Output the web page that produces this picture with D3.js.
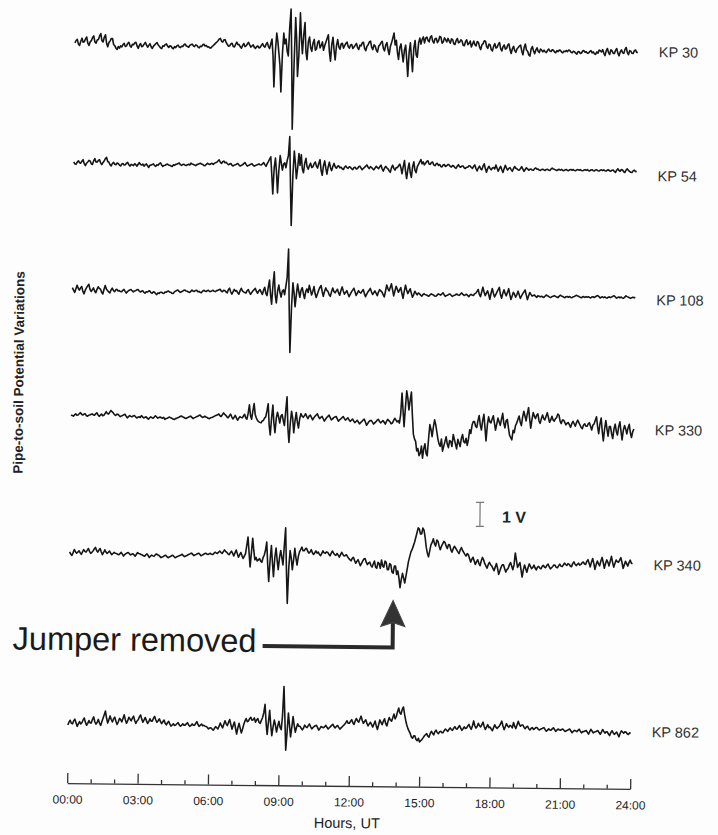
<!DOCTYPE html>
<html>
<head>
<meta charset="utf-8">
<script src="https://cdn.jsdelivr.net/npm/d3@7"></script>
<style>
  html, body { margin: 0; padding: 0; background: #fdfdfd; }
  svg { display: block; font-family: "Liberation Sans", Arial, sans-serif; }
</style>
</head>
<body>
<svg id="chart" width="718" height="835"></svg>
<script>
// Pipe-to-soil potential variations at six pipeline stations.
// Values in centivolts (0.01 V) relative to each station's mean level,
// one sample every 0.05 h from 00:00 to 24:00 UT (20 samples per row = 1 hour).
const stations = ["KP 30", "KP 54", "KP 108", "KP 330", "KP 340", "KP 862"];

const kp30 = [
  5,15,20,0,-5,12,25,8,10,22,30,5,-5,10,15,28,35,10,5,18,
  20,35,45,15,10,30,40,5,-10,8,15,25,25,0,-5,-15,-20,-8,-15,-5,
  -10,0,5,-8,-5,5,10,-5,-10,2,0,8,10,-5,-15,-2,5,-8,-5,3,
  10,0,-10,-2,5,-8,-15,-5,0,6,10,0,-5,-12,-15,-3,-5,2,5,-4,
  -10,-3,-5,-12,-15,-6,-10,-2,0,-8,-10,-4,-5,2,5,-3,-5,-8,0,3,
  5,-2,-5,2,0,-7,-10,-3,-5,3,5,-2,0,-6,-5,-10,-10,-4,0,5,
  10,15,20,28,30,18,15,24,25,12,5,-2,0,8,10,-3,-5,6,15,5,
  5,-4,-10,2,10,-3,0,8,15,4,-5,0,5,-6,-10,-2,0,-8,-5,3,
  10,0,-5,8,15,-2,-10,10,30,-40,-170,-20,55,20,-30,-80,-190,-30,55,10,
  30,-20,-40,80,155,-60,-345,-80,120,30,-125,-40,140,40,-30,50,100,-20,-55,20,
  40,-5,-20,15,30,-15,-10,18,25,-5,5,20,-15,5,20,35,50,-20,-60,10,
  40,-15,-55,5,30,0,-10,12,15,-5,5,15,20,2,-5,8,10,-6,0,8,
  15,-2,-10,8,5,18,20,-5,-15,4,10,22,25,0,-10,10,5,-12,-20,5,
  10,20,25,-5,-15,10,20,-10,-30,5,20,40,60,10,30,-20,-50,0,15,-25,
  -60,-10,10,-50,-120,-20,20,-40,-100,0,30,-30,-40,20,40,15,35,45,20,40,
  45,30,25,45,50,28,20,38,40,22,30,48,45,20,25,42,35,25,40,30,
  20,38,35,18,15,32,40,22,25,35,30,12,10,28,35,15,20,30,5,18,
  30,15,10,28,25,5,-5,15,20,32,30,8,0,18,15,-5,-10,10,20,2,
  5,18,25,0,-10,8,15,-2,0,15,20,-5,-20,0,10,-8,-15,0,5,12,
  15,-10,-25,5,20,-5,-10,-25,-30,0,10,-8,-20,-5,5,-10,-15,0,-5,-12,
  -5,-12,-15,-5,0,-8,-10,-3,-5,-12,-15,-6,-10,-4,-5,-12,-15,-8,-10,-5,
  -10,-3,-5,-12,-15,-8,-10,-16,-20,-9,-10,-17,-15,-6,-5,-12,-10,-16,-15,-8,
  -5,-14,-10,-18,-20,-10,-15,-2,-5,-10,0,-15,-25,-5,5,-12,-20,0,-5,-15,
  -15,-2,5,-15,-25,-8,0,-12,-15,2,10,-10,-20,-3,-5,-14,-15,-3,0,-10,
  -10
];

const kp54 = [
  5,-3,-5,4,10,2,0,8,15,-2,-10,0,5,12,10,-2,-5,10,20,6,
  5,12,15,2,-5,4,10,20,25,8,5,-5,-10,0,5,-3,-5,2,0,-6,
  -10,-2,0,-6,-5,2,5,-4,-10,-3,-5,-8,0,-4,-10,-2,5,-3,-5,-1,
  -10,-4,0,-8,-15,-6,-5,-2,0,-7,-10,-3,-5,1,5,-4,-10,-6,-5,-2,
  0,-4,-5,-8,-10,-3,-5,-1,0,3,5,-2,-5,-1,0,-4,-5,-2,0,-3,
  5,1,0,-3,-5,-1,0,3,5,2,0,-4,-5,0,5,2,0,3,5,1,
  5,8,10,15,20,10,5,12,15,8,10,4,0,3,5,-2,-5,-1,0,3,
  5,-1,-5,-2,0,5,10,2,-5,-2,0,3,5,-1,-5,-2,0,2,5,1,
  0,5,10,2,-5,6,15,25,35,-40,-120,-10,30,-30,-115,-20,40,10,-20,5,
  10,-10,20,40,120,-80,-250,-40,60,10,-55,-10,50,0,45,-15,-30,10,30,-5,
  -15,0,10,-8,-5,8,15,-2,-10,10,25,-20,-40,0,20,-10,-35,-5,15,-8,
  -20,-2,10,-4,-10,-2,0,-8,-5,-12,-15,-5,0,-7,-10,-3,-5,-12,-15,-6,
  -5,-12,-10,-3,0,-8,-15,-9,-5,0,5,-4,-10,-2,-5,-11,-15,-7,0,-6,
  -10,-2,5,-10,-20,-8,0,-6,-10,-18,-25,-5,5,-8,-15,-5,-5,3,10,-5,
  -30,0,25,-20,-50,-10,15,-25,-45,0,20,-15,-25,0,10,20,30,12,20,8,
  15,22,25,12,10,18,20,8,5,12,15,6,10,2,0,8,10,2,5,10,
  10,3,0,6,5,-2,-5,4,10,2,0,5,5,-3,-5,0,0,6,5,-1,
  -5,4,10,-5,-15,-3,5,-6,-10,5,15,-5,-20,-5,5,-4,-10,-2,0,-6,
  10,-3,-15,-4,5,-8,-20,-5,10,-2,-10,-3,0,-8,-15,-4,5,-2,-5,-9,
  -10,-3,5,-6,-15,-7,0,-4,-10,-6,-5,-9,-10,-3,0,-5,-5,-9,-10,-6,
  -5,-8,-10,-6,-5,-9,-10,-4,0,-4,-5,-8,-10,-6,-5,-8,-5,-9,-10,-7,
  -5,-9,-10,-6,-5,-8,-5,-9,-10,-6,-5,-8,-5,-9,-10,-7,-5,-8,-5,-9,
  -10,-6,-5,-9,-10,-6,-5,-9,-10,-7,-5,-8,-5,-9,-10,-6,-5,-9,-10,-6,
  -5,-11,-15,-6,0,-7,-10,-3,-5,-12,-15,-5,0,-6,-10,-14,-15,-8,-5,-11,
  -10
];

const kp108 = [
  10,0,-10,5,20,8,0,10,15,-5,-15,0,10,18,25,5,-5,2,10,-3,
  -10,4,15,8,5,-8,-15,5,20,6,0,-6,-10,2,10,0,-5,3,5,-2,
  0,-4,-5,1,5,-3,-10,-4,0,3,5,0,-5,-1,0,4,5,-1,-5,-2,
  0,-6,-10,-4,-5,-1,0,-7,-10,-4,-5,-11,-15,-8,-10,-5,-5,-9,-10,-4,
  -5,-1,0,-4,-5,-9,-10,-3,0,3,5,-1,-5,-2,0,4,5,1,0,-3,
  -5,0,5,1,0,4,5,-1,0,-4,-5,1,5,2,0,3,5,0,0,3,
  5,1,0,4,5,8,10,2,0,6,5,-1,-5,8,15,0,-10,0,10,3,
  5,-4,-10,5,15,4,0,-3,-5,5,10,-2,-10,-2,5,10,15,2,-5,5,
  10,0,-10,8,20,-5,-15,20,50,-10,-50,30,85,-10,-45,5,30,0,-20,5,
  10,-10,25,60,180,-60,-250,-60,40,0,-60,-10,35,5,-20,10,20,-5,-25,5,
  15,0,30,10,-10,5,25,-5,-20,-5,10,22,30,5,-15,5,20,10,5,-8,
  -15,5,20,6,0,8,15,0,-10,10,25,8,-5,2,10,-3,-15,-5,5,12,
  20,5,-10,0,10,3,0,8,15,-2,-15,-4,5,12,20,6,-5,2,10,0,
  -10,5,15,10,5,-5,-15,10,35,20,10,25,40,15,-10,10,30,18,5,15,
  25,0,-20,10,35,15,0,10,20,2,-15,-5,10,2,-5,3,0,-6,-10,-3,
  0,-4,-5,-8,-10,-4,0,-3,-5,-9,-10,-5,0,-2,-5,0,5,-3,-10,-6,
  -5,-1,0,-5,-10,-6,-5,-1,0,-4,-5,1,5,-1,-5,-3,0,-5,-10,-4,
  0,-4,-5,2,5,12,20,0,-10,10,30,10,-5,5,15,0,-20,5,25,5,
  -10,0,10,20,30,0,-15,5,20,5,-5,10,25,0,-20,-5,10,2,-10,0,
  15,0,-15,-5,5,12,20,0,-20,-5,10,2,-5,-2,0,-6,-10,-3,-5,-8,
  -5,-8,-10,-5,0,-3,-5,-9,-10,-6,-5,-2,-5,-8,-10,-5,0,-3,-5,-8,
  -10,-6,-5,-8,-5,-9,-10,-6,-5,-2,0,-3,-5,-8,-10,-6,-5,-8,-5,-7,
  -5,-8,-10,-6,-5,-8,-5,-2,0,-4,-10,-7,-5,-8,-5,-9,-10,-6,-5,-8,
  -5,-2,0,-5,-10,-7,-5,-8,-5,-9,-10,-5,0,-3,-5,-8,-10,-7,-5,-8,
  -5
];

const kp330 = [
  5,2,0,5,10,4,5,10,15,8,5,9,10,3,0,4,5,8,10,6,
  5,10,15,6,0,5,10,3,5,12,20,12,10,18,25,20,15,8,5,9,
  10,4,0,3,5,8,10,2,-5,0,5,1,0,3,5,0,-5,-2,0,-3,
  5,0,-5,-2,0,-5,-10,-4,0,-3,-5,0,5,0,-5,-2,0,-3,-5,-1,
  -10,-6,-5,-2,0,-3,-5,-8,-10,-6,-5,-2,0,3,5,2,0,-3,-5,-2,
  0,3,5,0,-5,-2,0,3,5,8,10,4,0,2,5,2,0,-3,-5,-1,
  0,2,5,8,10,12,15,8,5,12,20,14,10,3,0,8,15,4,-5,2,
  10,0,-10,-2,5,2,0,8,15,0,-5,20,55,10,-5,30,60,15,0,-10,
  -15,-18,-20,-12,-10,0,5,30,60,-30,-70,0,55,-20,-60,0,25,5,-20,10,
  15,-10,-30,30,90,-40,-100,-20,30,0,-60,-10,25,-15,-40,0,20,10,5,12,
  20,8,0,10,15,5,-5,3,10,15,20,8,0,6,10,0,-10,-2,5,10,
  15,5,-5,0,5,8,10,0,-10,-4,0,5,10,2,-5,0,5,-3,-10,-5,
  0,-8,-15,-10,-5,-12,-20,-14,-10,-4,0,-12,-25,-18,-10,-6,-5,-12,-20,-15,
  -10,-4,0,-8,-15,-10,-5,-12,-20,-8,0,-5,-10,-18,-15,-5,5,-2,-10,-5,
  -15,20,110,40,-30,50,120,90,40,80,115,20,-60,-80,-90,-130,-120,-150,-140,-110,
  -160,-120,-100,-140,-150,-80,-20,-40,-70,-30,0,-20,-50,-80,-100,-110,-80,-130,-110,-90,
  -70,-100,-115,-85,-90,-110,-60,-80,-100,-120,-80,-95,-110,-75,-60,-90,-95,-75,-105,-80,
  -40,-55,-20,-5,-5,-25,-30,0,20,-20,-40,0,25,-30,-85,-20,15,-5,-10,5,
  20,-10,-40,-15,10,-5,-20,5,30,-10,-30,0,5,-30,-60,-70,-80,-40,-50,-20,
  -10,5,20,-5,-20,15,40,20,0,30,55,10,-30,5,35,20,10,25,30,0,
  -10,10,25,10,5,20,35,15,-5,5,20,5,0,10,15,30,25,0,-10,5,
  5,-5,-15,-8,-5,-15,-25,-10,0,-10,-20,-5,5,-5,-15,-25,-30,-15,-10,-20,
  -20,-10,-5,-20,-35,-15,-10,5,20,-20,-50,-10,15,-40,-80,-30,5,-30,-60,-20,
  -20,-50,-70,-30,-10,-40,-55,-20,0,-40,-75,-35,-15,-30,-50,-25,-10,-45,-65,-40,
  -30
];

const kp340 = [
  5,-4,-10,2,15,6,0,4,10,2,-5,5,15,8,5,12,20,8,0,4,
  10,18,25,12,5,14,20,6,-5,4,15,6,0,5,10,2,-5,0,5,1,
  0,-3,-5,0,5,-2,-10,-4,0,3,5,0,-5,-2,0,-5,-10,-2,5,1,
  0,-3,-5,-8,-10,-4,0,-7,-15,-9,-5,-8,-10,-4,0,-3,-5,-10,-15,-12,
  -10,-6,-5,-11,-15,-12,-10,-6,-5,-10,-15,-12,-10,-7,-5,-3,0,-6,-10,-7,
  -5,-2,0,3,5,0,-5,-2,0,3,5,1,-5,-3,0,3,5,2,0,3,
  5,1,0,5,10,7,5,10,15,9,5,12,20,14,10,4,0,8,15,6,
  -5,8,20,5,-10,0,10,-3,-15,-5,5,40,75,10,-50,10,70,20,-20,-10,
  -25,-20,-15,-25,-30,-10,0,20,55,-40,-110,-20,40,-30,-90,-10,30,-20,-60,-10,
  20,-10,-40,40,115,-60,-200,-50,20,-10,-60,-20,30,-10,-40,-5,15,25,35,20,
  20,28,30,18,10,15,25,12,5,12,20,10,15,5,0,10,20,12,10,16,
  15,6,0,10,20,12,5,2,10,3,-5,5,15,6,0,2,5,-3,-10,-15,
  -20,-10,-5,-18,-30,-22,-15,-28,-40,-30,-20,-12,-10,-25,-35,-28,-25,-38,-45,-32,
  -20,-45,-50,-25,-30,-50,-15,-40,-45,-20,-25,-55,-55,-30,-35,-65,-70,-40,-40,-75,
  -60,-90,-130,-95,-70,-90,-110,-80,-50,-20,0,20,30,45,60,80,100,120,115,95,
  95,120,110,80,40,15,0,25,50,60,75,55,45,70,65,45,30,45,55,65,
  60,45,35,52,50,30,20,35,45,38,30,22,15,30,40,28,20,12,5,15,
  10,-5,-20,-8,0,-15,-30,-18,-10,-25,-35,-15,0,-10,-25,-35,-45,-30,-20,-30,
  -35,-45,-55,-40,-25,-45,-70,-55,-40,-30,-30,-45,-60,-50,-45,-30,-20,-35,-50,-30,
  20,-10,-40,-30,-20,-50,-80,-50,-30,-45,-60,-40,-25,-35,-45,-40,-30,-42,-50,-38,
  -35,-42,-45,-35,-30,-38,-40,-30,-25,-36,-45,-40,-35,-28,-30,-38,-40,-32,-25,-33,
  -35,-28,-20,-26,-30,-22,-25,-32,-35,-22,-15,-24,-30,-25,-20,-28,-25,-18,-15,-22,
  -25,-12,-5,-20,-35,-15,0,-20,-45,-25,-10,-22,-30,-10,5,-15,-40,-20,-5,-15,
  -30,-10,10,-15,-35,-20,-5,-12,-15,-5,5,-15,-40,-25,-10,-20,-30,-15,-5,-18,
  -20
];

const kp862 = [
  0,12,20,8,5,18,25,10,-5,5,15,5,10,22,30,12,0,8,20,10,
  10,25,35,15,5,12,25,10,0,15,30,45,60,30,10,25,40,25,15,28,
  35,18,5,15,30,25,15,30,45,25,10,20,35,28,20,32,40,22,10,20,
  25,38,45,28,15,25,35,22,10,18,30,20,20,32,40,25,15,22,30,18,
  10,18,25,12,5,14,20,8,0,5,10,3,5,10,15,6,0,4,10,5,
  5,10,15,6,0,4,10,5,5,12,20,8,0,5,10,3,5,1,0,-4,
  -10,-6,-5,-10,-15,-8,0,-5,-10,2,15,4,-5,10,25,12,5,18,30,10,
  -10,5,20,-5,-30,-5,15,-5,-25,-10,10,25,35,22,25,35,40,28,30,38,
  20,30,35,20,15,28,40,60,95,20,-30,20,70,10,-35,0,30,10,-20,5,
  25,0,-10,50,170,40,-95,-20,60,10,-40,0,45,10,-20,0,15,5,5,-3,
  -10,-2,10,3,0,8,15,4,-5,0,5,8,10,0,-10,-3,5,2,0,4,
  10,2,-5,0,5,10,15,5,0,6,10,2,-5,0,5,10,15,22,30,20,
  20,28,35,22,15,30,40,30,25,38,50,32,20,28,35,20,10,18,25,15,
  5,18,30,10,-5,15,35,25,15,30,40,20,10,30,45,35,30,45,60,40,
  50,70,85,65,60,80,90,60,35,15,0,-10,-20,-35,-40,-30,-30,-45,-50,-40,
  -55,-50,-45,-38,-30,-25,-20,-30,-35,-20,-10,-18,-25,-12,-5,-15,-20,-12,-10,-16,
  -15,-6,0,-5,-10,-2,5,-2,-5,4,10,2,0,8,15,4,-5,2,10,3,
  5,14,20,8,0,15,35,15,5,12,25,15,10,20,30,12,0,10,20,8,
  10,2,-5,8,20,10,5,10,15,25,35,15,0,12,25,15,10,18,15,8,
  30,15,5,20,35,22,15,20,20,10,5,12,15,5,0,6,10,2,5,10,
  10,4,0,3,5,8,10,2,-5,0,5,1,0,5,10,3,-5,0,5,2,
  0,3,5,0,-5,-2,0,3,5,-3,-10,-4,0,-2,-5,0,5,-3,-10,-5,
  -5,-2,0,-8,-15,-5,5,-2,-10,-6,-5,-2,0,-8,-15,-6,5,-3,-10,-5,
  -5,-14,-20,-8,0,-8,-15,-10,-5,-16,-25,-10,0,-5,-10,-4,-5,-12,-15,-8,
  -10
];

const traces = [kp30, kp54, kp108, kp330, kp340, kp862];
const recordStartHour = 0;
const recordEndHour = 24;

// Time axis
const majorTickHours = [0, 3, 6, 9, 12, 15, 18, 21, 24];
const majorTickLabels = ["00:00", "03:00", "06:00", "09:00", "12:00", "15:00", "18:00", "21:00", "24:00"];
const minorTickHours = [1, 2, 4, 5, 7, 8, 10, 11, 13, 14, 16, 17, 19, 20, 22, 23];

// Layout
const rowBaseY = [47, 166, 293, 419, 556, 728];
const rowLabelY = [54, 178, 302, 432, 567, 734];
const pxPerVolt = 24;
const axisY = 786;

const svg = d3.select("#chart");
svg.append("rect").attr("width", 718).attr("height", 835).attr("fill", "#fdfdfd");

// the whole sheet sits at a slight tilt
const g = svg.append("g").attr("transform", "rotate(0.6 350 420)");

const x = d3.scaleLinear().domain([recordStartHour, recordEndHour]).range([71, 634]);

traces.forEach((vals, i) => {
  const base = rowBaseY[i];
  const y = d3.scaleLinear().domain([-1, 1]).range([base + pxPerVolt, base - pxPerVolt]);
  const t = d3.scaleLinear().domain([0, vals.length - 1]).range([recordStartHour, recordEndHour]);
  const line = d3.line()
    .x((d, j) => x(t(j)))
    .y(d => y(d / 100));
  g.append("path")
    .attr("d", line(vals))
    .attr("fill", "none")
    .attr("stroke", "#161616")
    .attr("stroke-width", 1.6)
    .attr("stroke-linejoin", "round");
  g.append("text")
    .attr("x", 655)
    .attr("y", rowLabelY[i])
    .attr("font-size", 14.5)
    .attr("fill", "#333")
    .text(stations[i]);
});

// Hour axis: major ticks with labels, minor ticks hourly
const axisG = g.append("g").attr("transform", `translate(0,${axisY})`);
axisG.call(d3.axisBottom(x)
  .tickValues(majorTickHours)
  .tickFormat((d, i) => majorTickLabels[i])
  .tickSizeInner(-10)
  .tickSizeOuter(0)
  .tickPadding(12));
axisG.append("g").call(d3.axisBottom(x)
  .tickValues(minorTickHours)
  .tickFormat("")
  .tickSizeInner(-4)
  .tickSizeOuter(0))
  .select(".domain").remove();
axisG.selectAll("path.domain").attr("stroke", "#333").attr("stroke-width", 1.3);
axisG.selectAll(".tick line").attr("stroke", "#333").attr("stroke-width", 1.3);
axisG.selectAll(".tick text")
  .attr("font-family", "'Liberation Sans', Arial, sans-serif")
  .attr("font-size", 12)
  .attr("fill", "#222");

g.append("text")
  .attr("x", 351).attr("y", 828)
  .attr("text-anchor", "middle")
  .attr("font-size", 14.5)
  .attr("fill", "#222")
  .text("Hours, UT");

// Vertical title
g.append("text")
  .attr("transform", "translate(23,376) rotate(-90)")
  .attr("text-anchor", "middle")
  .attr("font-size", 13.5)
  .attr("font-weight", "bold")
  .attr("fill", "#222")
  .text("Pipe-to-soil Potential Variations");

// 1 V scale bar
const barScale = d3.scaleLinear().domain([0, 1]).range([525, 525 - pxPerVolt]);
const barX = 481;
const bar = g.append("g").attr("stroke", "#777").attr("stroke-width", 1.2);
bar.append("line").attr("x1", barX).attr("x2", barX).attr("y1", barScale(0)).attr("y2", barScale(1));
bar.append("line").attr("x1", barX - 4).attr("x2", barX + 4).attr("y1", barScale(0)).attr("y2", barScale(0));
bar.append("line").attr("x1", barX - 4).attr("x2", barX + 4).attr("y1", barScale(1)).attr("y2", barScale(1));
g.append("text")
  .attr("x", 503).attr("y", 521)
  .attr("font-size", 16)
  .attr("font-weight", "bold")
  .attr("fill", "#222")
  .text("1 V");

// Annotation
g.append("text")
  .attr("x", 15).attr("y", 653)
  .attr("font-size", 32.5)
  .attr("fill", "#1a1a1a")
  .text("Jumper removed");

const arrow = g.append("g");
arrow.append("path")
  .attr("d", "M265,647 L395,647 L395,622")
  .attr("fill", "none")
  .attr("stroke", "#2a2a2a")
  .attr("stroke-width", 4)
  .attr("stroke-linejoin", "miter");
arrow.append("path")
  .attr("d", "M383,626 L395,600 L407,626 L395,622 Z")
  .attr("fill", "#333")
  .attr("stroke", "#444")
  .attr("stroke-width", 1);
</script>
</body>
</html>
